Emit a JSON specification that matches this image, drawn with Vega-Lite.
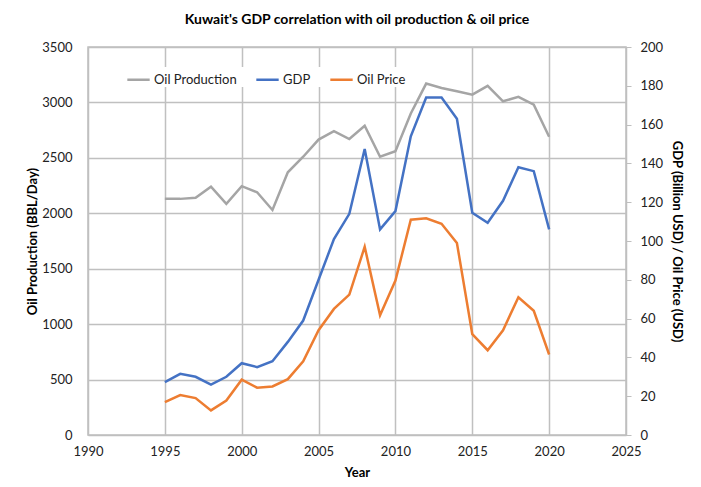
{
  "$schema": "https://vega.github.io/schema/vega-lite/v6.json",
  "width": 538,
  "height": 388,
  "autosize": {"type": "none"},
  "padding": {"left": 88, "top": 47, "right": 75, "bottom": 52},
  "background": "white",
  "title": {
    "text": "Kuwait's GDP correlation with oil production & oil price",
    "font": "Lato",
    "fontSize": 14,
    "fontWeight": "bold",
    "color": "#000000",
    "offset": 14,
    "anchor": "middle"
  },
  "config": {
    "font": "Lato",
    "view": {"stroke": "#bfbfbf", "strokeWidth": 1.5},
    "axis": {
      "labelFont": "Lato",
      "labelFontSize": 13,
      "labelColor": "#222222",
      "titleFont": "Lato",
      "titleFontSize": 13,
      "titleFontWeight": "bold",
      "titleColor": "#000000",
      "gridColor": "#c0c0c0",
      "gridWidth": 1.5,
      "gridOpacity": 1,
      "domainColor": "#bfbfbf",
      "tickColor": "#bfbfbf"
    }
  },
  "data": {
    "values": [
      {"year": 1995, "series": "Oil Production", "value": 2130},
      {"year": 1996, "series": "Oil Production", "value": 2130},
      {"year": 1997, "series": "Oil Production", "value": 2140},
      {"year": 1998, "series": "Oil Production", "value": 2240},
      {"year": 1999, "series": "Oil Production", "value": 2085},
      {"year": 2000, "series": "Oil Production", "value": 2245},
      {"year": 2001, "series": "Oil Production", "value": 2190},
      {"year": 2002, "series": "Oil Production", "value": 2030},
      {"year": 2003, "series": "Oil Production", "value": 2370},
      {"year": 2004, "series": "Oil Production", "value": 2510},
      {"year": 2005, "series": "Oil Production", "value": 2665},
      {"year": 2006, "series": "Oil Production", "value": 2740},
      {"year": 2007, "series": "Oil Production", "value": 2670},
      {"year": 2008, "series": "Oil Production", "value": 2790},
      {"year": 2009, "series": "Oil Production", "value": 2510},
      {"year": 2010, "series": "Oil Production", "value": 2560},
      {"year": 2011, "series": "Oil Production", "value": 2900},
      {"year": 2012, "series": "Oil Production", "value": 3170},
      {"year": 2013, "series": "Oil Production", "value": 3130},
      {"year": 2014, "series": "Oil Production", "value": 3100},
      {"year": 2015, "series": "Oil Production", "value": 3070},
      {"year": 2016, "series": "Oil Production", "value": 3150},
      {"year": 2017, "series": "Oil Production", "value": 3010},
      {"year": 2018, "series": "Oil Production", "value": 3050},
      {"year": 2019, "series": "Oil Production", "value": 2980},
      {"year": 2020, "series": "Oil Production", "value": 2690},
      {"year": 1995, "series": "GDP", "value": 27.3},
      {"year": 1996, "series": "GDP", "value": 31.5},
      {"year": 1997, "series": "GDP", "value": 30},
      {"year": 1998, "series": "GDP", "value": 26},
      {"year": 1999, "series": "GDP", "value": 30},
      {"year": 2000, "series": "GDP", "value": 37},
      {"year": 2001, "series": "GDP", "value": 35},
      {"year": 2002, "series": "GDP", "value": 38},
      {"year": 2003, "series": "GDP", "value": 48},
      {"year": 2004, "series": "GDP", "value": 59},
      {"year": 2005, "series": "GDP", "value": 80},
      {"year": 2006, "series": "GDP", "value": 101},
      {"year": 2007, "series": "GDP", "value": 114},
      {"year": 2008, "series": "GDP", "value": 147.4},
      {"year": 2009, "series": "GDP", "value": 106},
      {"year": 2010, "series": "GDP", "value": 115.4},
      {"year": 2011, "series": "GDP", "value": 154},
      {"year": 2012, "series": "GDP", "value": 174},
      {"year": 2013, "series": "GDP", "value": 174},
      {"year": 2014, "series": "GDP", "value": 163},
      {"year": 2015, "series": "GDP", "value": 114.6},
      {"year": 2016, "series": "GDP", "value": 109.4},
      {"year": 2017, "series": "GDP", "value": 120.7},
      {"year": 2018, "series": "GDP", "value": 138},
      {"year": 2019, "series": "GDP", "value": 136},
      {"year": 2020, "series": "GDP", "value": 106},
      {"year": 1995, "series": "Oil Price", "value": 17},
      {"year": 1996, "series": "Oil Price", "value": 20.6},
      {"year": 1997, "series": "Oil Price", "value": 19},
      {"year": 1998, "series": "Oil Price", "value": 12.7},
      {"year": 1999, "series": "Oil Price", "value": 17.8},
      {"year": 2000, "series": "Oil Price", "value": 28.5},
      {"year": 2001, "series": "Oil Price", "value": 24.4},
      {"year": 2002, "series": "Oil Price", "value": 25},
      {"year": 2003, "series": "Oil Price", "value": 28.8},
      {"year": 2004, "series": "Oil Price", "value": 38},
      {"year": 2005, "series": "Oil Price", "value": 54},
      {"year": 2006, "series": "Oil Price", "value": 65},
      {"year": 2007, "series": "Oil Price", "value": 72.4},
      {"year": 2008, "series": "Oil Price", "value": 97},
      {"year": 2009, "series": "Oil Price", "value": 61.7},
      {"year": 2010, "series": "Oil Price", "value": 79.6},
      {"year": 2011, "series": "Oil Price", "value": 111},
      {"year": 2012, "series": "Oil Price", "value": 111.7},
      {"year": 2013, "series": "Oil Price", "value": 108.9},
      {"year": 2014, "series": "Oil Price", "value": 99},
      {"year": 2015, "series": "Oil Price", "value": 52},
      {"year": 2016, "series": "Oil Price", "value": 43.7},
      {"year": 2017, "series": "Oil Price", "value": 54},
      {"year": 2018, "series": "Oil Price", "value": 71},
      {"year": 2019, "series": "Oil Price", "value": 64},
      {"year": 2020, "series": "Oil Price", "value": 41.5}
    ]
  },
  "encoding": {
    "x": {
      "field": "year",
      "type": "quantitative",
      "scale": {"domain": [1990, 2025], "nice": false, "zero": false},
      "axis": {
        "title": "Year",
        "values": [1990, 1995, 2000, 2005, 2010, 2015, 2020, 2025],
        "format": "d",
        "tickSize": 0,
        "labelPadding": 10,
        "titlePadding": 8,
        "domain": true,
        "labelFlush": false
      }
    },
    "color": {
      "field": "series",
      "type": "nominal",
      "scale": {
        "domain": ["Oil Production", "GDP", "Oil Price"],
        "range": ["#A5A5A5", "#4472C4", "#ED7D31"]
      },
      "legend": {
        "title": null,
        "orient": "none",
        "legendX": 38,
        "legendY": 20,
        "direction": "horizontal",
        "symbolType": "stroke",
        "symbolSize": 500,
        "symbolStrokeWidth": 2.5,
        "labelFont": "Lato",
        "labelFontSize": 13,
        "labelColor": "#222222",
        "columnPadding": 14,
        "labelOffset": 3,
        "fillColor": "white"
      }
    }
  },
  "layer": [
    {
      "transform": [{"filter": "datum.series === 'Oil Production'"}],
      "mark": {"type": "line", "strokeWidth": 2.5},
      "encoding": {
        "y": {
          "field": "value",
          "type": "quantitative",
          "scale": {"domain": [0, 3500], "nice": false},
          "axis": {
            "title": "Oil Production (BBL/Day)",
            "orient": "left",
            "values": [0, 500, 1000, 1500, 2000, 2500, 3000, 3500],
            "format": "d",
            "tickSize": 0,
            "labelPadding": 16,
            "titlePadding": 2,
            "domain": false,
            "grid": true
          }
        }
      }
    },
    {
      "transform": [{"filter": "datum.series !== 'Oil Production'"}],
      "mark": {"type": "line", "strokeWidth": 2.5},
      "encoding": {
        "y": {
          "field": "value",
          "type": "quantitative",
          "scale": {"domain": [0, 200], "nice": false},
          "axis": {
            "title": "GDP (Billion USD) / Oil Price (USD)",
            "orient": "right",
            "values": [0, 20, 40, 60, 80, 100, 120, 140, 160, 180, 200],
            "tickSize": 5,
            "labelPadding": 9,
            "titlePadding": 7,
            "domain": true,
            "grid": false
          }
        }
      }
    }
  ],
  "resolve": {"scale": {"y": "independent"}, "axis": {"y": "independent"}}
}
